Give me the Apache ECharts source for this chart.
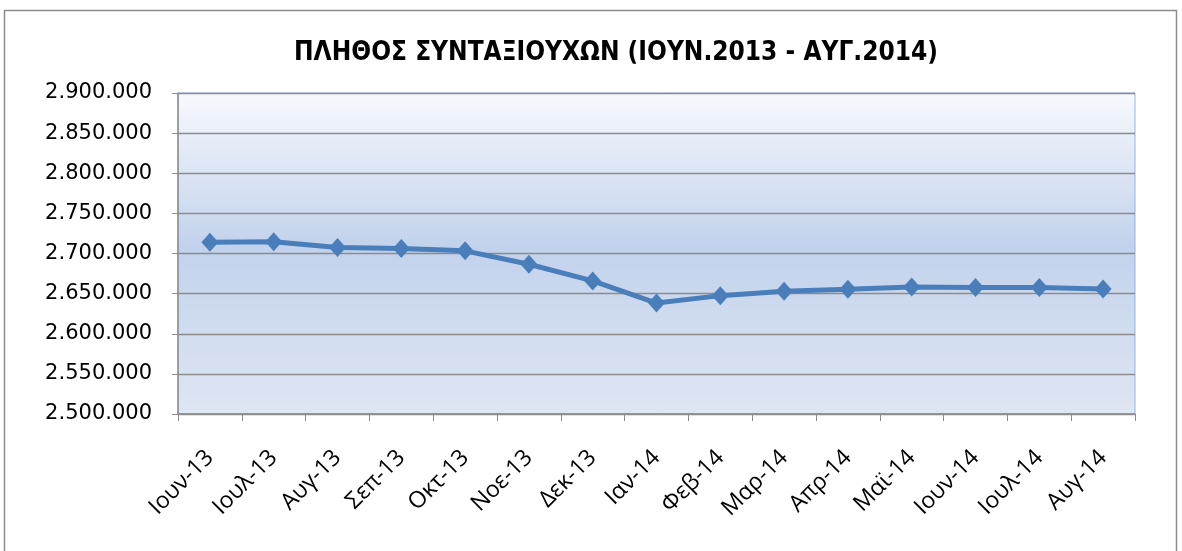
<!DOCTYPE html>
<html>
<head>
<meta charset="utf-8">
<script src="https://cdn.jsdelivr.net/npm/echarts@6/dist/echarts.min.js"></script>
<style>
  html, body { margin: 0; padding: 0; background: #fff; }
  #chart { width: 1182px; height: 551px; }
</style>
</head>
<body>
<div id="chart"></div>
<script>
var months = ['Ιουν-13','Ιουλ-13','Αυγ-13','Σεπ-13','Οκτ-13','Νοε-13','Δεκ-13','Ιαν-14',
              'Φεβ-14','Μαρ-14','Απρ-14','Μαϊ-14','Ιουν-14','Ιουλ-14','Αυγ-14'];
var pensioners = [2714000, 2714500, 2707500, 2706300, 2703300, 2686600, 2665800, 2638300,
                  2647500, 2652900, 2655400, 2658300, 2657500, 2657500, 2655800];
var yMin = 2500000, yMax = 2900000, yStep = 50000;

// μορφή 2.900.000
function fmt(v) {
    return String(v).replace(/\B(?=(\d{3})+(?!\d))/g, '.');
}

var chart = echarts.init(document.getElementById('chart'));
chart.setOption({
    backgroundColor: '#fff',
    animation: false,
    title: {
        text: 'ΠΛΗΘΟΣ ΣΥΝΤΑΞΙΟΥΧΩΝ (ΙΟΥΝ.2013 - ΑΥΓ.2014)',
        left: 611,
        textAlign: 'center',
        top: 35,
        textStyle: { fontFamily: '"DejaVu Sans Condensed", "Open Sans"', fontSize: 26, fontWeight: 'bold', color: '#000' }
    },
    graphic: [{
        type: 'rect',
        shape: { x: 4.5, y: 10.5, width: 1172, height: 545 },
        style: { fill: 'none', stroke: '#8c8c8c', lineWidth: 1.5 },
        silent: true
    }],
    grid: {
        left: 178, right: 47, top: 93, bottom: 137,
        show: true,
        borderColor: '#95b3e0',
        borderWidth: 1,
        backgroundColor: {
            type: 'linear', x: 0, y: 0, x2: 0, y2: 1,
            colorStops: [
                { offset: 0, color: '#f7f9fd' },
                { offset: 0.48, color: '#c2d2ec' },
                { offset: 1, color: '#dfe6f3' }
            ]
        }
    },
    xAxis: {
        type: 'category',
        data: months,
        boundaryGap: true,
        axisLine: { lineStyle: { color: '#8c8c8c', width: 1.5 } },
        axisTick: { show: true, length: 7, lineStyle: { color: '#8c8c8c' } },
        axisLabel: {
            rotate: 45, interval: 0, margin: 40,
            fontFamily: 'Open Sans', fontSize: 23, color: '#000'
        },
        splitLine: { show: false }
    },
    yAxis: {
        type: 'value',
        min: yMin, max: yMax, interval: yStep,
        axisLine: { show: true, lineStyle: { color: '#8c8c8c', width: 1.5 } },
        axisTick: { show: true, length: 6, lineStyle: { color: '#8c8c8c' } },
        axisLabel: {
            formatter: fmt, margin: 26,
            fontFamily: 'DejaVu Sans', fontSize: 21, color: '#000'
        },
        splitLine: { show: true, lineStyle: { color: '#8c8c8c', width: 1.3 } }
    },
    series: [{
        type: 'line',
        data: pensioners,
        symbol: 'diamond',
        symbolSize: [17, 19],
        lineStyle: { color: '#4a7ebb', width: 5 },
        itemStyle: { color: '#4a7ebb' }
    }]
});
</script>
</body>
</html>
